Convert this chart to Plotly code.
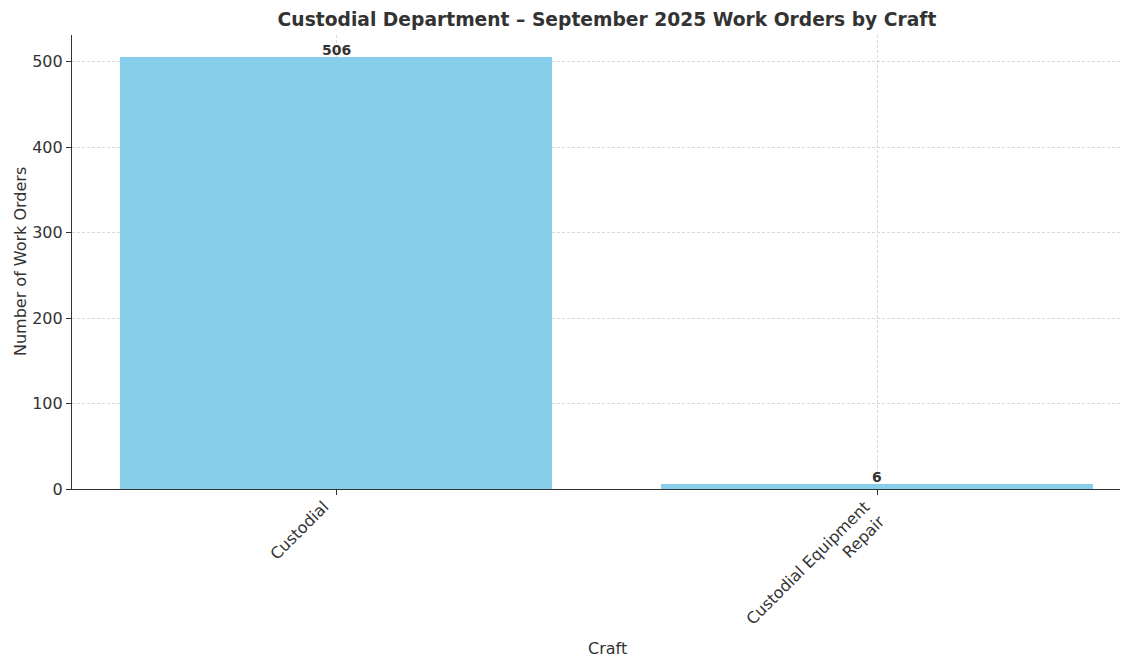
import plotly.graph_objects as go

crafts = ["Custodial", "Custodial Equipment<br>Repair"]
counts = [506, 6]
y_ticks = [0, 100, 200, 300, 400, 500]

# page has an 8px body margin, so work in figure coordinates = window - 8
OFF = 8
W, H = 1128 - OFF, 659 - OFF
L, R, T = 72 - OFF, 0, 35 - OFF
Y0 = 489 - OFF
B = H - Y0
PW, PH = W - L - R, H - T - B

fig = go.Figure()
fig.add_trace(go.Bar(
    x=list(range(len(counts))), y=counts, width=0.8,
    marker=dict(color="#87CEEB", line=dict(width=0)),
    hoverinfo="x+y",
))

value_labels = [
    dict(text=f"<b>{c}</b>", x=i, y=c, xref="x", yref="y",
         showarrow=False, xanchor="center", yanchor="bottom", yshift=-3,
         font=dict(family="DejaVu Sans", size=14, color="#333333"))
    for i, c in enumerate(counts)
]

grid = dict(showgrid=True, gridcolor="#d8d8d8", griddash="3px,2px", gridwidth=0.8)
tick0 = 336 - OFF
step = 541
fig.update_layout(
    width=W, height=H,
    margin=dict(l=L, r=R, t=T, b=B, autoexpand=False),
    plot_bgcolor="white", paper_bgcolor="white",
    font=dict(family="DejaVu Sans", size=16, color="#333333"),
    showlegend=False,
    bargap=0,
    title=dict(text="<b>Custodial Department – September 2025 Work Orders by Craft</b>",
               x=(607 - OFF) / W, xanchor="center", xref="container",
               y=1 - (19 - OFF) / H, yanchor="middle", yref="container",
               font=dict(family="DejaVu Sans", size=18.7, color="#333333")),
    xaxis=dict(range=[-(tick0 - L) / step, (W - tick0) / step], tickmode="array",
               tickvals=list(range(len(crafts))), ticktext=crafts, tickangle=-45,
               ticklabelshift=-12, ticklabelstandoff=-4,
               ticks="outside", ticklen=5, tickcolor="#333333",
               showline=True, linecolor="#333333", linewidth=1.2,
               zeroline=False, **grid),
    yaxis=dict(range=[0, 531.3], tickmode="array", tickvals=y_ticks,
               ticks="outside", ticklen=5, tickcolor="#333333",
               showline=True, linecolor="#333333", linewidth=1.2,
               zeroline=False, **grid),
    annotations=value_labels + [
        dict(text="Craft", xref="paper", yref="paper",
             x=(607 - 72) / PW, y=-(648 - 489) / PH,
             showarrow=False, xanchor="center", yanchor="middle",
             font=dict(size=16, color="#333333")),
        dict(text="Number of Work Orders", xref="paper", yref="paper",
             x=(20 - 72) / PW, y=(489 - 262) / PH,
             textangle=-90, showarrow=False, xanchor="center", yanchor="middle",
             font=dict(size=16, color="#333333")),
    ],
)

fig.write_html("out.html")
